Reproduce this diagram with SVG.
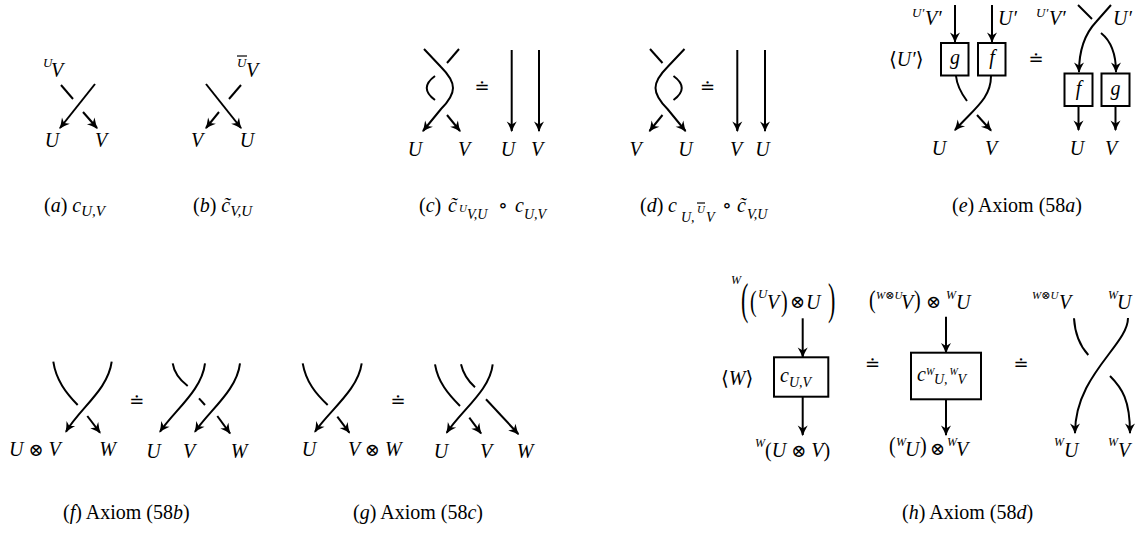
<svg xmlns="http://www.w3.org/2000/svg" width="1144" height="535" viewBox="0 0 1144 535">
<style>
.s{fill:none;stroke:#000;stroke-width:2}
.a{marker-end:url(#ah)}
.m{font-family:'Liberation Serif','Times New Roman','DejaVu Serif',serif;font-style:italic;font-size:20px;fill:#000}
.cap{font-family:'Liberation Serif','Times New Roman','DejaVu Serif',serif;font-style:normal;font-size:20px;fill:#000}
.r{font-style:normal}
.eq{font-family:'DejaVu Serif',serif;font-size:18px;fill:#000}
.z10{font-size:10px}
.z11{font-size:11px}
.z12{font-size:12px}
.z13{font-size:13px}
.z14{font-size:14px}
.z15{font-size:15px}
.z18{font-size:18px}
.z22{font-size:22px}
.box{fill:#fff;stroke:#000;stroke-width:2}
.ol{stroke:#000;stroke-width:1.2}
</style>
<defs>
<marker id="ah" viewBox="-12 -6 14 12" refX="0" refY="0" markerWidth="14" markerHeight="12" orient="auto" markerUnits="userSpaceOnUse">
<path d="M1.2,0 Q-4,-1.6 -9.5,-5 L-6.5,0 L-9.5,5 Q-4,1.6 1.2,0 Z" fill="#000"/>
</marker>
</defs>

<!-- (a) -->
<g id="fig-a">
<g id="conn-a">
<path class="s" d="M61,85 L73,99"/>
<path class="s a" d="M83,112 L97,128"/>
<path class="s a" d="M95,84 L60,128"/>
</g>
<text class="m z13" x="43" y="67">U</text>
<text class="m" x="51" y="77">V</text>
<text class="m" x="52" y="147" text-anchor="middle">U</text>
<text class="m" x="101" y="147" text-anchor="middle">V</text>
<text class="cap" x="44" y="212">(<tspan class="m">a</tspan>) <tspan class="m">c</tspan><tspan class="m z15" dy="4">U,V</tspan></text>
</g>

<!-- (b) -->
<g id="fig-b">
<g id="conn-b">
<path class="s a" d="M206,84 L241,128"/>
<path class="s" d="M241,85 L229,99"/>
<path class="s a" d="M219,112 L206,128"/>
</g>
<line class="ol" x1="237" y1="56" x2="247" y2="56"/>
<text class="m z13" x="237" y="67">U</text>
<text class="m" x="246" y="77">V</text>
<text class="m" x="197" y="147" text-anchor="middle">V</text>
<text class="m" x="247" y="147" text-anchor="middle">U</text>
<text class="cap" x="193" y="212">(<tspan class="m">b</tspan>) <tspan class="m">c̃</tspan><tspan class="m z15" dy="4">V,U</tspan></text>
</g>

<!-- (c) -->
<g id="fig-c">
<g id="conn-c">
<path class="s a" d="M424,49 L441,67 Q453,79 453,88 Q453,97 441,109 L423,131"/>
<path class="s" d="M459,49 L447,63"/>
<path class="s" d="M435,76 C424,84 424,92 435,100"/>
<path class="s a" d="M447,115 L460,131"/>
<path class="s a" d="M511.7,50 L511.7,131"/>
<path class="s a" d="M539,50 L539,131"/>
</g>
<text class="eq" x="482" y="93" text-anchor="middle">≐</text>
<text class="m" x="415" y="156" text-anchor="middle">U</text>
<text class="m" x="464" y="156" text-anchor="middle">V</text>
<text class="m" x="508" y="156" text-anchor="middle">U</text>
<text class="m" x="537" y="156" text-anchor="middle">V</text>
<text class="cap" x="419" y="212">(<tspan class="m">c</tspan>)</text>
<text class="m" x="448" y="212">c̃</text>
<text class="m z11" x="459" y="212">U</text>
<text class="m z14" x="467" y="219">V,U</text>
<text class="cap" x="498" y="212">∘</text>
<text class="m" x="515" y="212">c</text>
<text class="m z14" x="524" y="219">U,V</text>
</g>

<!-- (d) -->
<g id="fig-d">
<g id="conn-d">
<path class="s a" d="M684.5,49 L667.5,67 Q655.5,79 655.5,88 Q655.5,97 667.5,109 L685.5,131"/>
<path class="s" d="M650,49 L662.5,63"/>
<path class="s" d="M673.5,76 C684.5,84 684.5,92 673.5,100"/>
<path class="s a" d="M662.5,115 L649.5,131"/>
<path class="s a" d="M737.3,50 L737.3,131"/>
<path class="s a" d="M765,50 L765,131"/>
</g>
<text class="eq" x="707.5" y="93" text-anchor="middle">≐</text>
<text class="m" x="635.5" y="156" text-anchor="middle">V</text>
<text class="m" x="685.5" y="156" text-anchor="middle">U</text>
<text class="m" x="736" y="156" text-anchor="middle">V</text>
<text class="m" x="762.5" y="156" text-anchor="middle">U</text>
<text class="cap" x="640" y="212">(<tspan class="m">d</tspan>)</text>
<text class="m" x="668" y="212">c</text>
<text class="m z14" x="681" y="222">U,</text>
<line class="ol" x1="697" y1="203" x2="705" y2="203"/>
<text class="m z11" x="697" y="213">U</text>
<text class="m z14" x="706" y="222">V</text>
<text class="cap" x="722" y="212">∘</text>
<text class="m" x="737" y="212">c̃</text>
<text class="m z14" x="747" y="219">V,U</text>
</g>

<!-- (e) -->
<g id="fig-e">
<g id="conn-e">
<path class="s a" d="M955,5 L955,42"/>
<path class="s a" d="M992,5 L992,42"/>
<path class="s" d="M956,76 C957,86 961,93 967,101"/>
<path class="s a" d="M991,76 C991,98 975,108 955,130"/>
<path class="s a" d="M977,115 L991,130.5"/>
<path class="s" d="M1078,5 L1092,19"/>
<path class="s a" d="M1111,5 L1096,22 Q1079,40 1079,72"/>
<path class="s a" d="M1101,33 Q1116,45 1116,72"/>
<path class="s a" d="M1078.5,106 L1078.5,130"/>
<path class="s a" d="M1115.5,106 L1115.5,130"/>
</g>
<g id="box-e-g"><rect class="box" x="941" y="43" width="27.5" height="32.5"/><text class="m" x="955" y="64" text-anchor="middle">g</text></g>
<g id="box-e-f"><rect class="box" x="978" y="43" width="27.5" height="32.5"/><text class="m" x="992" y="64" text-anchor="middle">f</text></g>
<g id="box-e-f2"><rect class="box" x="1064.5" y="73.5" width="28" height="32.5"/><text class="m" x="1078.5" y="95" text-anchor="middle">f</text></g>
<g id="box-e-g2"><rect class="box" x="1101.5" y="73.5" width="28" height="32.5"/><text class="m" x="1115.5" y="95" text-anchor="middle">g</text></g>
<text class="m z13" x="912" y="17">U′</text>
<text class="m" x="925" y="25">V′</text>
<text class="m" x="998" y="25">U′</text>
<text class="m" x="889" y="66"><tspan class="r">⟨</tspan>U′<tspan class="r">⟩</tspan></text>
<text class="eq" x="1036" y="65" text-anchor="middle">≐</text>
<text class="m z13" x="1036" y="17">U′</text>
<text class="m" x="1049" y="25">V′</text>
<text class="m" x="1113" y="25">U′</text>
<text class="m" x="939" y="155" text-anchor="middle">U</text>
<text class="m" x="991" y="155" text-anchor="middle">V</text>
<text class="m" x="1077" y="155" text-anchor="middle">U</text>
<text class="m" x="1111" y="155" text-anchor="middle">V</text>
<text class="cap" x="952" y="212">(<tspan class="m">e</tspan>) Axiom (58<tspan class="m">a</tspan>)</text>
</g>

<!-- (f) -->
<g id="fig-f">
<g id="conn-f">
<path class="s" d="M53.3,361.7 C56,380 66,393 77.7,405"/>
<path class="s a" d="M111.7,361.7 C108,390 80,408 66,431.7"/>
<path class="s a" d="M87.3,416 L100,432.7"/>
<path class="s" d="M172.7,363.3 C174,372 180,380 187.7,386"/>
<path class="s" d="M199,398.3 L205,405"/>
<path class="s a" d="M217.3,416 L230,433.3"/>
<path class="s a" d="M205,363.3 C202,390 175,410 160,431.7"/>
<path class="s a" d="M240,363.3 C237,390 210,410 195,431.7"/>
</g>
<text class="m" x="9" y="456">U <tspan class="r z18">⊗</tspan> V</text>
<text class="m" x="107.5" y="456" text-anchor="middle">W</text>
<text class="eq" x="136.7" y="407" text-anchor="middle">≐</text>
<text class="m" x="153.5" y="458" text-anchor="middle">U</text>
<text class="m" x="189" y="458" text-anchor="middle">V</text>
<text class="m" x="239" y="458" text-anchor="middle">W</text>
<text class="cap" x="63" y="519">(<tspan class="m">f</tspan>) Axiom (58<tspan class="m">b</tspan>)</text>
</g>

<!-- (g) -->
<g id="fig-g">
<g id="conn-g">
<path class="s" d="M302.7,363.3 C306,382 316,394 327.7,405"/>
<path class="s a" d="M361.7,363.3 C358,390 330,410 315,431.7"/>
<path class="s a" d="M337.3,416.7 L349.3,432.7"/>
<path class="s" d="M435,364.3 C438,382 448,394 460,406"/>
<path class="s" d="M461,364.3 C463,373 468,381 475,387.3"/>
<path class="s a" d="M492.7,364.3 C490,390 462,410 446.7,432.7"/>
<path class="s a" d="M469.3,417.7 L481,433.3"/>
<path class="s a" d="M486,399.3 L518.3,434"/>
</g>
<text class="m" x="309" y="456" text-anchor="middle">U</text>
<text class="m" x="348" y="456">V <tspan class="r z18">⊗</tspan> W</text>
<text class="eq" x="398" y="407" text-anchor="middle">≐</text>
<text class="m" x="441" y="458" text-anchor="middle">U</text>
<text class="m" x="486" y="458" text-anchor="middle">V</text>
<text class="m" x="525" y="458" text-anchor="middle">W</text>
<text class="cap" x="353" y="519">(<tspan class="m">g</tspan>) Axiom (58<tspan class="m">c</tspan>)</text>
</g>

<!-- (h) -->
<g id="fig-h">
<g id="conn-h">
<path class="s a" d="M802.7,318.3 L802.7,357"/>
<path class="s a" d="M802.7,396.7 L802.7,435"/>
<path class="s a" d="M946,316.7 L946,352.5"/>
<path class="s a" d="M946,399.3 L946,435"/>
<path class="s" d="M1074,318.3 C1075,335 1080,346 1088.3,355"/>
<path class="s a" d="M1128,318 C1128,345 1075,375 1075,433"/>
<path class="s a" d="M1110,376 C1122,388 1130,400 1130,433"/>
</g>
<g id="box-h1"><rect class="box" x="774" y="357.3" width="54.3" height="39.4"/>
<text class="m" x="780" y="382">c</text>
<text class="m z14" x="789" y="387">U,V</text></g>
<g id="box-h2"><rect class="box" x="911" y="352.7" width="70" height="46.6"/>
<text class="m" x="917" y="381">c</text>
<text class="m z10" x="926" y="375">W</text>
<text class="m z14" x="934" y="384">U,</text>
<text class="m z10" x="949.5" y="375">W</text>
<text class="m z14" x="957.5" y="384">V</text></g>
<text class="m z12" x="731" y="284">W</text>
<text class="cap z22" transform="translate(741,313.5) scale(1,2)">(</text>
<text class="cap" transform="translate(750,310.5) scale(1,1.5)">(</text>
<text class="m z13" x="758" y="298">U</text>
<text class="m" x="767" y="309">V</text>
<text class="cap" transform="translate(781,310.5) scale(1,1.5)">)</text>
<text class="cap z18" x="790" y="308">⊗</text>
<text class="m" x="806" y="309">U</text>
<text class="cap z22" transform="translate(828,313.5) scale(1,2)">)</text>
<text class="m" x="721" y="385"><tspan class="r">⟨</tspan>W<tspan class="r">⟩</tspan></text>
<text class="m z12" x="755" y="447">W</text>
<text class="m" x="765" y="457"><tspan class="r">(</tspan>U <tspan class="r z18">⊗</tspan> V<tspan class="r">)</tspan></text>
<text class="eq" x="872.5" y="370" text-anchor="middle">≐</text>
<text class="cap" transform="translate(869,307.5) scale(1,1.3)">(</text>
<text class="m z11" x="876" y="299">W<tspan class="r">⊗</tspan>U</text>
<text class="m" x="901" y="309">V</text>
<text class="cap" transform="translate(914,307.5) scale(1,1.3)">)</text>
<text class="cap z18" x="926" y="308">⊗</text>
<text class="m z12" x="946" y="299">W</text>
<text class="m" x="956" y="309">U</text>
<text class="cap" transform="translate(889,453) scale(1,1.15)">(</text>
<text class="m z12" x="896" y="446">W</text>
<text class="m" x="905" y="456">U</text>
<text class="cap" transform="translate(920,453) scale(1,1.15)">)</text>
<text class="cap z18" x="930" y="455">⊗</text>
<text class="m z12" x="947" y="446">W</text>
<text class="m" x="956" y="456">V</text>
<text class="eq" x="1021" y="370" text-anchor="middle">≐</text>
<text class="m z11" x="1032" y="299">W<tspan class="r">⊗</tspan>U</text>
<text class="m" x="1059" y="309">V</text>
<text class="m z12" x="1108" y="299">W</text>
<text class="m" x="1117" y="309">U</text>
<text class="m z12" x="1054" y="446">W</text>
<text class="m" x="1064" y="457">U</text>
<text class="m z12" x="1108" y="446">W</text>
<text class="m" x="1118" y="457">V</text>
<text class="cap" x="902" y="519">(<tspan class="m">h</tspan>) Axiom (58<tspan class="m">d</tspan>)</text>
</g>
</svg>
